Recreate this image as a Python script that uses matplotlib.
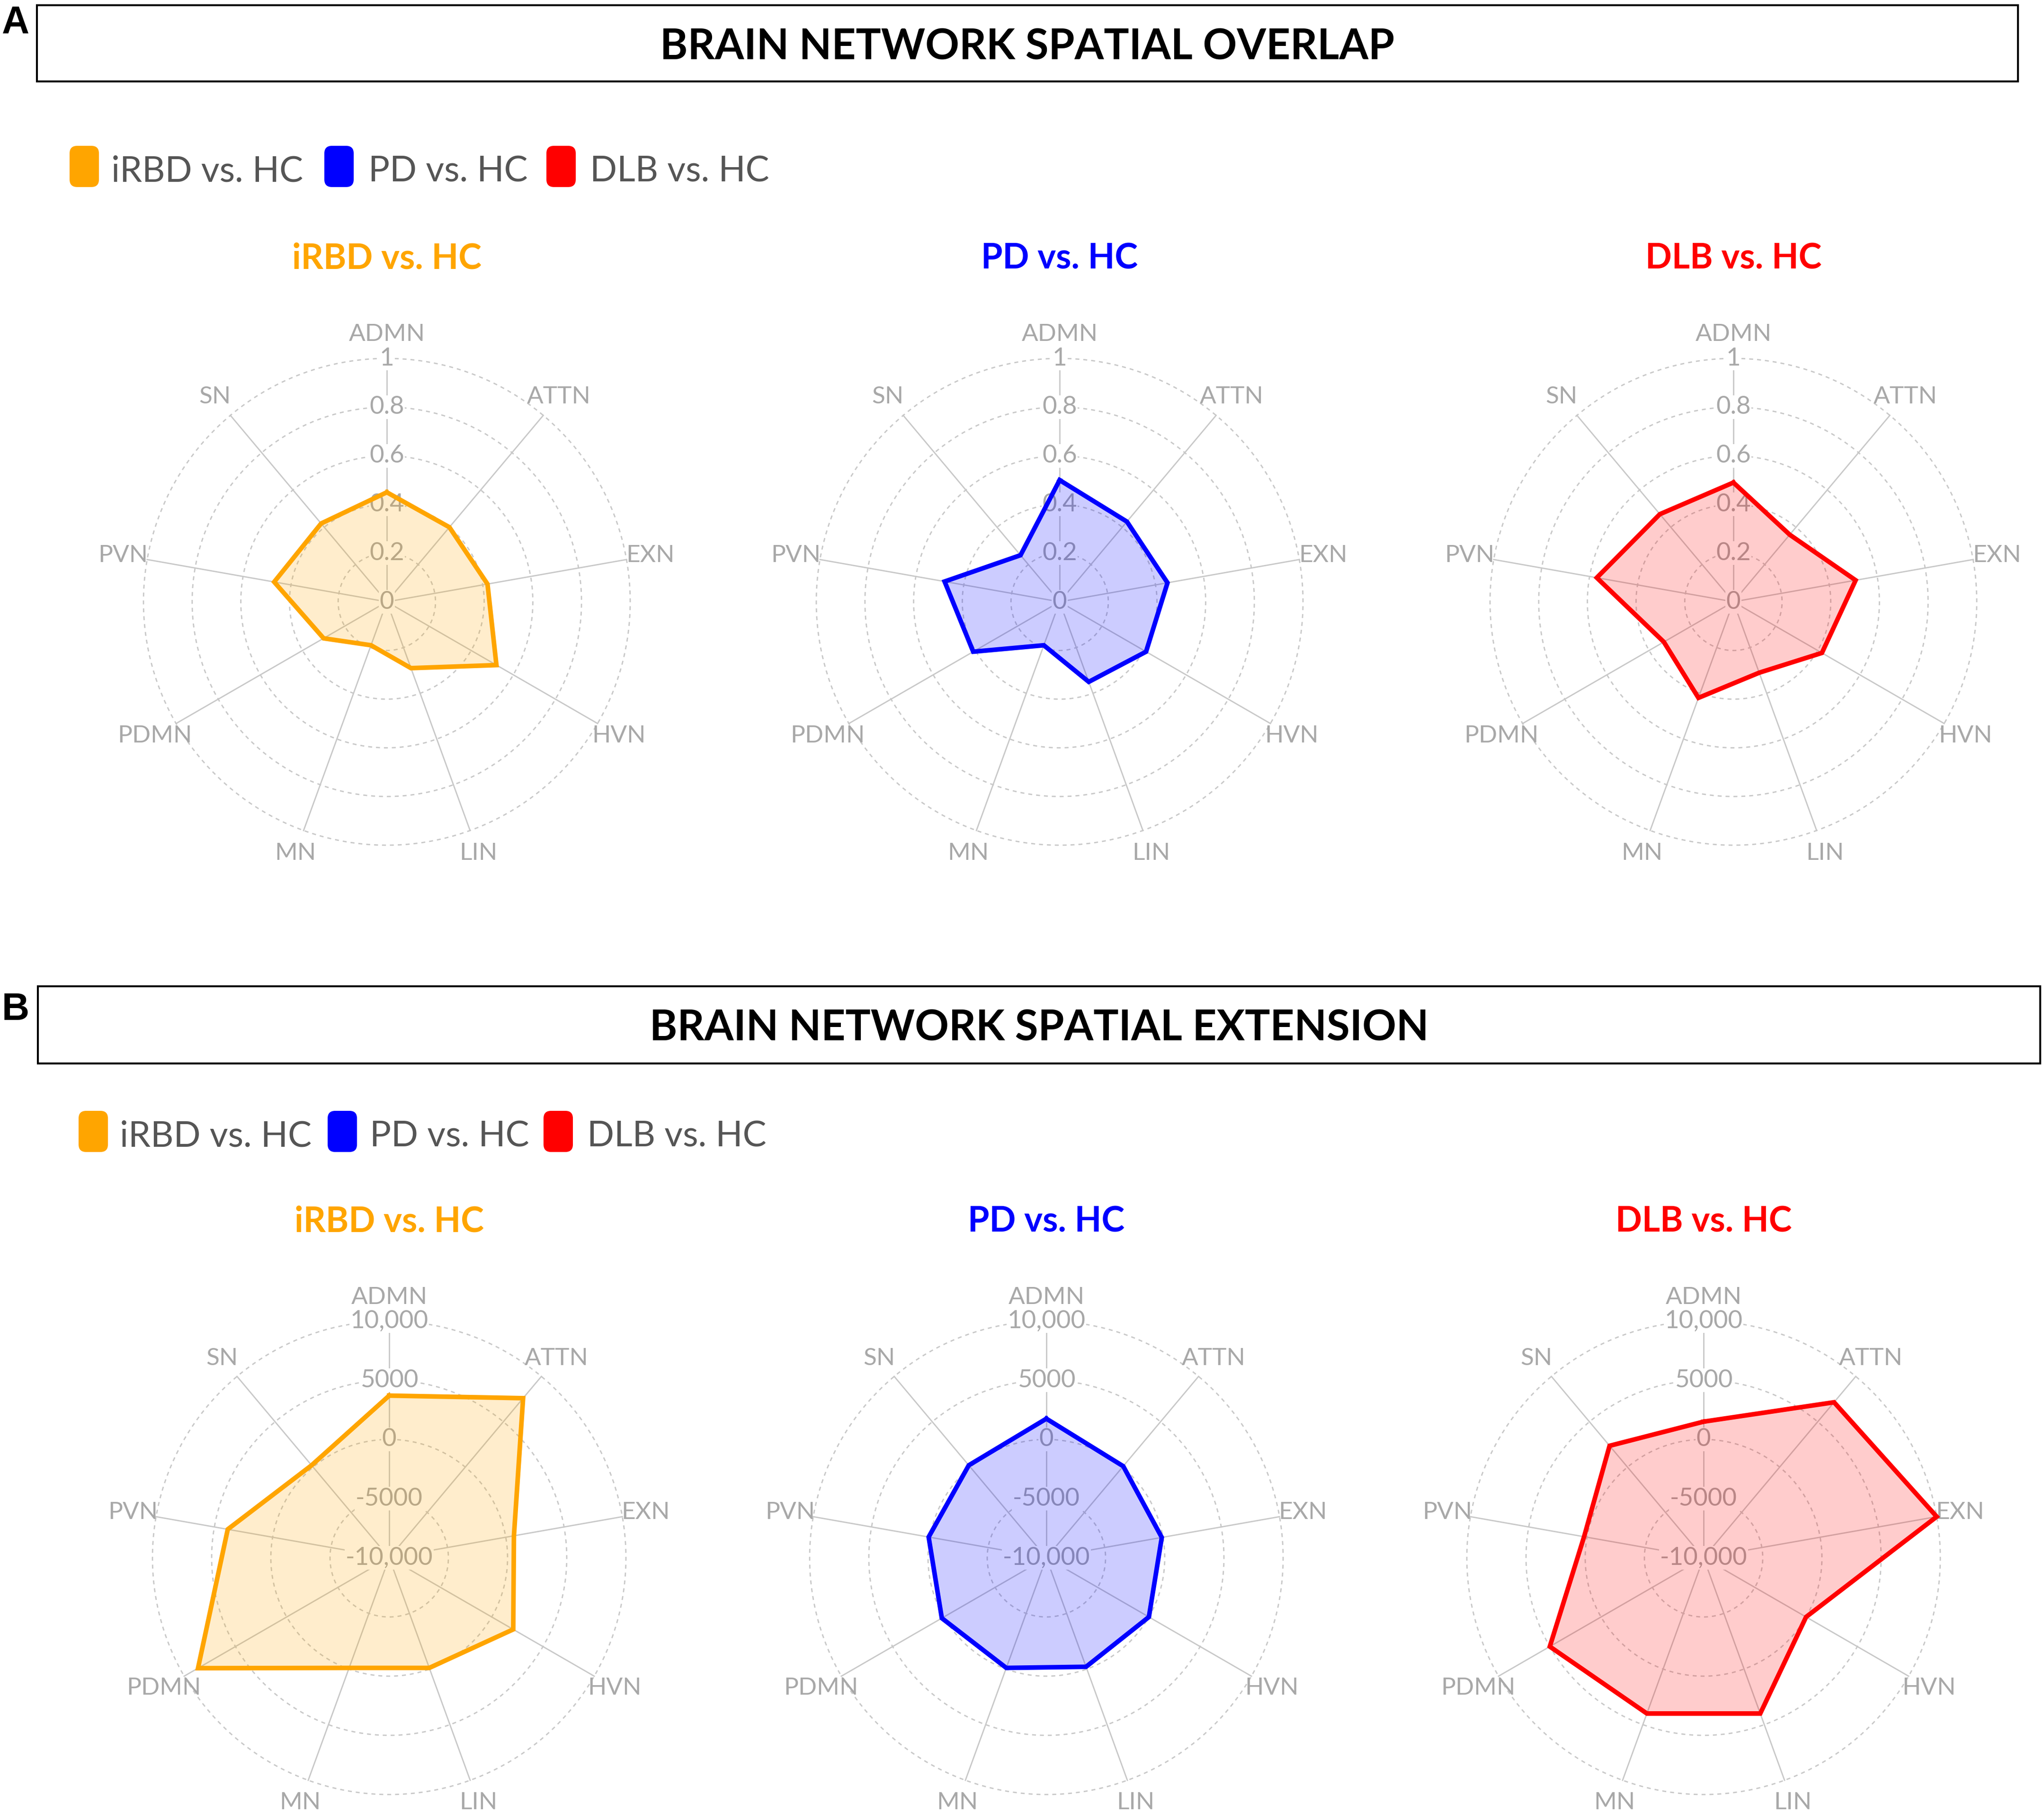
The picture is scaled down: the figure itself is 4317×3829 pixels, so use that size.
import numpy as np
import matplotlib
matplotlib.use("Agg")
import matplotlib.pyplot as plt
from matplotlib.patches import FancyBboxPatch, Rectangle

# ---- data ----
categories = ['ADMN', 'ATTN', 'EXN', 'HVN', 'LIN', 'MN', 'PDMN', 'PVN', 'SN']
groups = ['iRBD vs. HC', 'PD vs. HC', 'DLB vs. HC']
colors = ['#FFA500', '#0000FF', '#FF0000']

overlap_irbd = [0.45, 0.40, 0.42, 0.52, 0.29, 0.19, 0.30, 0.47, 0.42]
overlap_pd = [0.50, 0.43, 0.45, 0.41, 0.35, 0.19, 0.41, 0.48, 0.25]
overlap_dlb = [0.49, 0.36, 0.51, 0.42, 0.31, 0.42, 0.33, 0.57, 0.47]

extension_irbd = [3700, 7600, 700, 2100, -100, -100, 8650, 3850, 200]
extension_pd = [1750, 100, -100, 0, -200, -100, 200, 100, 200]
extension_dlb = [1500, 7150, 10000, 0, 4000, 4000, 5000, 250, 2350]

overlap_ticks = [0, 0.2, 0.4, 0.6, 0.8, 1.0]
overlap_ticklabels = ['0', '0.2', '0.4', '0.6', '0.8', '1']
extension_ticks = [-10000, -5000, 0, 5000, 10000]
extension_ticklabels = ['-10,000', '-5000', '0', '5000', '10,000']

W, H = 4317, 3829
fig = plt.figure(figsize=(W / 100, H / 100), dpi=100)
fig.patch.set_facecolor('white')

# overlay axes in pixel coordinates (y downwards)
ov = fig.add_axes([0, 0, 1, 1])
ov.set_xlim(0, W)
ov.set_ylim(H, 0)
ov.axis('off')

FONT = 'Lato'
GRID = '#c8c8c8'
LABEL = '#a8a8a8'


def header(x0, x1, y0, y1, text, letter, ly):
    ov.add_patch(Rectangle((x0, y0), x1 - x0, y1 - y0, fill=False, ec='black', lw=3))
    ov.text((x0 + x1) / 2, (y0 + y1) / 2, text, ha='center', va='center_baseline',
            fontsize=64, fontweight='bold', family=FONT, color='black')
    ov.text(4, ly, letter, ha='left', va='center_baseline', fontsize=58,
            fontweight='bold', family='Liberation Sans', color='black')


def legend(y0, boxes_x, text_x):
    for bx, tx, g, c in zip(boxes_x, text_x, groups, colors):
        ov.add_patch(FancyBboxPatch((bx, y0), 62, 87, boxstyle='round,pad=0,rounding_size=16',
                                    fc=c, ec='none'))
        ov.text(tx, y0 + 76, g, ha='left', va='baseline', fontsize=54, family=FONT, color='#555555')


def radar(cx, cy, R, values, color, rmin, rmax, ticks, ticklabels, title, title_y):
    ax = fig.add_axes([(cx - R) / W, 1 - (cy + R) / H, 2 * R / W, 2 * R / H], projection='polar')
    ax.set_theta_offset(np.pi / 2)
    ax.set_theta_direction(-1)
    ax.set_ylim(rmin, rmax)
    ax.set_axis_off()

    n = len(categories)
    theta = np.arange(n) * 2 * np.pi / n
    ring_t = np.linspace(0, 2 * np.pi, 400)
    for t in ticks[1:]:
        ax.plot(ring_t, np.full_like(ring_t, t), ls=(0, (3, 3)), color=GRID, lw=2.0,
                zorder=1, clip_on=False)
    for t in theta:
        ax.plot([t, t], [rmin, rmax], color=GRID, lw=2.0, zorder=1, clip_on=False)

    for t, lab in zip(ticks, ticklabels):
        ax.text(0, t, lab, ha='center', va='center', fontsize=38, family=FONT, color=LABEL,
                zorder=2, bbox=dict(fc='white', ec='none', pad=1))

    span = rmax - rmin
    for t, cat in zip(theta, categories):
        ax.text(t, rmin + 1.10 * span, cat, ha='center', va='center', fontsize=37,
                family=FONT, color=LABEL)

    th = np.append(theta, theta[0])
    v = np.append(values, values[0])
    ax.fill(th, v, color=color, alpha=0.2, lw=0, zorder=3)
    ax.plot(th, v, color=color, lw=7, zorder=4, solid_joinstyle='miter', clip_on=False)

    ov.text(cx, title_y, title, ha='center', va='baseline', fontsize=53, fontweight='bold',
            family=FONT, color=color)


# ---- panel A ----
header(78, 4262, 11, 172, 'BRAIN NETWORK SPATIAL OVERLAP', 'A', 40)
legend(308, [147, 685, 1154], [235, 778, 1246])
top_cx = [817, 2238, 3661]
for cx, vals, c, g in zip(top_cx, [overlap_irbd, overlap_pd, overlap_dlb], colors, groups):
    radar(cx, 1271, 514, vals, c, 0, 1, overlap_ticks, overlap_ticklabels, g, 568)

# ---- panel B ----
header(80, 4309, 2083, 2246, 'BRAIN NETWORK SPATIAL EXTENSION', 'B', 2125)
legend(2346, [166, 692, 1148], [253, 781, 1240])
bot_cx = [822, 2210, 3598]
for cx, vals, c, g in zip(bot_cx, [extension_irbd, extension_pd, extension_dlb], colors, groups):
    radar(cx, 3290, 500, vals, c, -10000, 10000, extension_ticks, extension_ticklabels, g, 2602)

fig.savefig('out.png', dpi=100, facecolor='white')
